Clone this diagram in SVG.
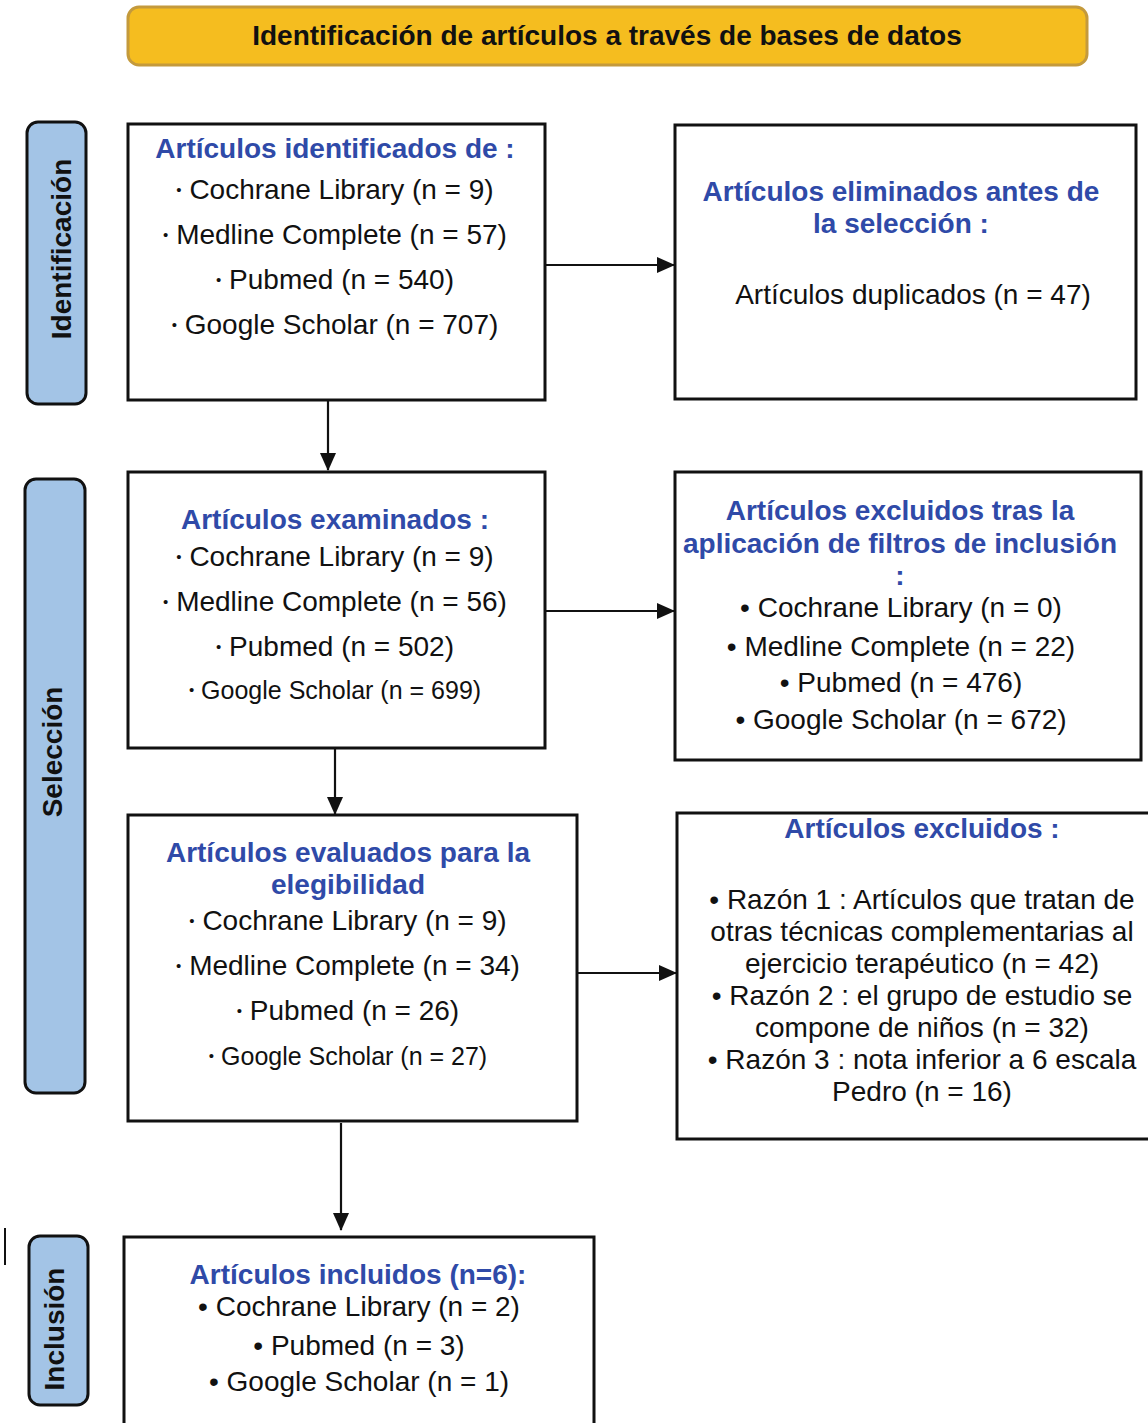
<svg xmlns="http://www.w3.org/2000/svg" width="1148" height="1423" viewBox="0 0 1148 1423">
<style>
.box{fill:#fff;stroke:#111;stroke-width:3}
.lab{fill:#A3C4E6;stroke:#111;stroke-width:3}
.t{font-family:"Liberation Sans",Arial,sans-serif;font-size:28px;fill:#111;text-anchor:middle}
.s{font-size:25px}
.d{font-size:15px}
.h{font-family:"Liberation Sans",Arial,sans-serif;font-size:28px;font-weight:bold;fill:#2F4AA8;text-anchor:middle}
.lt{font-family:"Liberation Sans",Arial,sans-serif;font-size:28px;font-weight:bold;fill:#111;text-anchor:middle}
.c{stroke:#111;stroke-width:2.2;fill:none;marker-end:url(#ah)}
</style>
<defs>
<marker id="ah" viewBox="0 0 18 16" refX="17" refY="8" markerWidth="18" markerHeight="16" markerUnits="userSpaceOnUse" orient="auto">
<path d="M0,0 L18,8 L0,16 z" fill="#111"/>
</marker>
</defs>
<rect width="1148" height="1423" fill="#fff"/>

<g id="header">
<rect x="128" y="7" width="959" height="58" rx="11" fill="#F5BD1F" stroke="#C49A3C" stroke-width="3"/>
<text class="lt" x="607" y="45">Identificación de artículos a través de bases de datos</text>
</g>

<g id="label-identificacion">
<rect class="lab" x="27" y="122" width="59" height="282" rx="11"/>
<text class="lt" transform="translate(71,249) rotate(-90)">Identificación</text>
</g>
<g id="label-seleccion">
<rect class="lab" x="25" y="479" width="60" height="614" rx="11"/>
<text class="lt" transform="translate(62,752) rotate(-90)">Selección</text>
</g>
<g id="label-inclusion">
<rect class="lab" x="29" y="1236" width="59" height="169" rx="11"/>
<text class="lt" transform="translate(64,1329) rotate(-90)">Inclusión</text>
</g>

<g id="identificados">
<rect class="box" x="128" y="124" width="417" height="276"/>
<text class="h" x="335" y="158">Artículos identificados de :</text>
<text class="t" x="335" y="199"><tspan class="d" dy="-4">•</tspan><tspan dy="4"> Cochrane Library (n = 9)</tspan></text>
<text class="t" x="335" y="244"><tspan class="d" dy="-4">•</tspan><tspan dy="4"> Medline Complete (n = 57)</tspan></text>
<text class="t" x="335" y="289"><tspan class="d" dy="-4">•</tspan><tspan dy="4"> Pubmed (n = 540)</tspan></text>
<text class="t" x="335" y="334"><tspan class="d" dy="-4">•</tspan><tspan dy="4"> Google Scholar (n = 707)</tspan></text>
</g>

<g id="eliminados">
<rect class="box" x="675" y="125" width="461" height="274"/>
<text class="h" x="901" y="201">Artículos eliminados antes de</text>
<text class="h" x="901" y="233">la selección :</text>
<text class="t" x="913" y="304">Artículos duplicados (n = 47)</text>
</g>

<g id="examinados">
<rect class="box" x="128" y="472" width="417" height="276"/>
<text class="h" x="335" y="529">Artículos examinados :</text>
<text class="t" x="335" y="566"><tspan class="d" dy="-4">•</tspan><tspan dy="4"> Cochrane Library (n = 9)</tspan></text>
<text class="t" x="335" y="611"><tspan class="d" dy="-4">•</tspan><tspan dy="4"> Medline Complete (n = 56)</tspan></text>
<text class="t" x="335" y="656"><tspan class="d" dy="-4">•</tspan><tspan dy="4"> Pubmed (n = 502)</tspan></text>
<text class="t s" x="335" y="699"><tspan class="d" dy="-4">•</tspan><tspan dy="4"> Google Scholar (n = 699)</tspan></text>
</g>

<g id="excluidos-filtros">
<rect class="box" x="675" y="472" width="466" height="288"/>
<text class="h" x="900" y="520">Artículos excluidos tras la</text>
<text class="h" x="900" y="553">aplicación de filtros de inclusión</text>
<text class="h" x="900" y="585">:</text>
<text class="t" x="901" y="617">• Cochrane Library (n = 0)</text>
<text class="t" x="901" y="656">• Medline Complete (n = 22)</text>
<text class="t" x="901" y="692">• Pubmed (n = 476)</text>
<text class="t" x="901" y="729">• Google Scholar (n = 672)</text>
</g>

<g id="evaluados">
<rect class="box" x="128" y="815" width="449" height="306"/>
<text class="h" x="348" y="862">Artículos evaluados para la</text>
<text class="h" x="348" y="894">elegibilidad</text>
<text class="t" x="348" y="930"><tspan class="d" dy="-4">•</tspan><tspan dy="4"> Cochrane Library (n = 9)</tspan></text>
<text class="t" x="348" y="975"><tspan class="d" dy="-4">•</tspan><tspan dy="4"> Medline Complete (n = 34)</tspan></text>
<text class="t" x="348" y="1020"><tspan class="d" dy="-4">•</tspan><tspan dy="4"> Pubmed (n = 26)</tspan></text>
<text class="t s" x="348" y="1065"><tspan class="d" dy="-4">•</tspan><tspan dy="4"> Google Scholar (n = 27)</tspan></text>
</g>

<g id="excluidos">
<rect class="box" x="677" y="813" width="474" height="326"/>
<text class="h" x="922" y="838">Artículos excluidos :</text>
<text class="t" x="922" y="909">• Razón 1 : Artículos que tratan de</text>
<text class="t" x="922" y="941">otras técnicas complementarias al</text>
<text class="t" x="922" y="973">ejercicio terapéutico (n = 42)</text>
<text class="t" x="922" y="1005">• Razón 2 : el grupo de estudio se</text>
<text class="t" x="922" y="1037">compone de niños (n = 32)</text>
<text class="t" x="922" y="1069">• Razón 3 : nota inferior a 6 escala</text>
<text class="t" x="922" y="1101">Pedro (n = 16)</text>
</g>

<g id="incluidos">
<rect class="box" x="124" y="1237" width="470" height="200"/>
<text class="h" x="358" y="1284">Artículos incluidos (n=6):</text>
<text class="t" x="359" y="1316">• Cochrane Library (n = 2)</text>
<text class="t" x="359" y="1355">• Pubmed (n = 3)</text>
<text class="t" x="359" y="1391">• Google Scholar (n = 1)</text>
</g>

<g id="connectors">
<line class="c" x1="545" y1="265" x2="674" y2="265"/>
<line class="c" x1="328" y1="400" x2="328" y2="470"/>
<line class="c" x1="545" y1="611" x2="674" y2="611"/>
<line class="c" x1="335" y1="748" x2="335" y2="814"/>
<line class="c" x1="577" y1="973" x2="676" y2="973"/>
<line class="c" x1="341" y1="1123" x2="341" y2="1230"/>
</g>
<line x1="5" y1="1228" x2="5" y2="1265" stroke="#111" stroke-width="2"/>
</svg>
